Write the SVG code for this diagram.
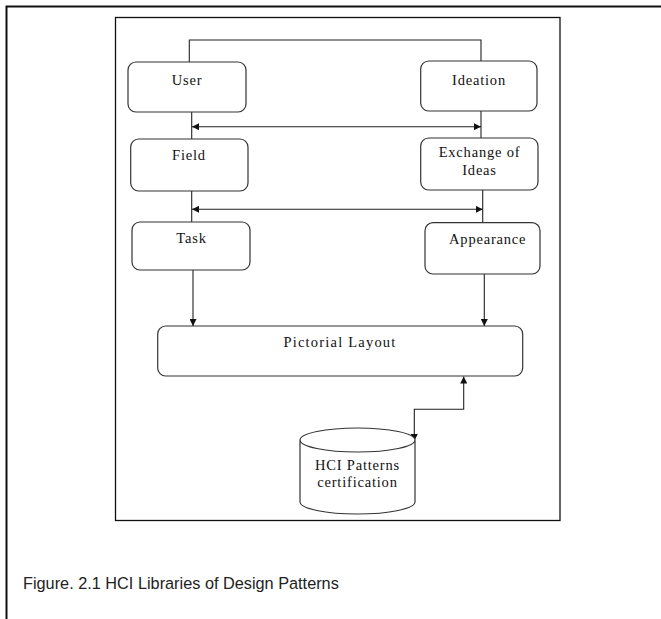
<svg xmlns="http://www.w3.org/2000/svg" width="661" height="619" viewBox="0 0 661 619">
<defs>
<style>
.box{fill:#fff;stroke:#333;stroke-width:1.2}
.ln{fill:none;stroke:#222;stroke-width:1.1}
.t{font-family:"Liberation Serif","Times New Roman",serif;font-size:14.5px;letter-spacing:0.8px;fill:#111;text-anchor:middle}
.cap{font-family:"Liberation Sans",Arial,sans-serif;font-size:16.3px;fill:#222}
</style>
<marker id="ah" viewBox="0 0 10 10" refX="10" refY="5" markerWidth="7" markerHeight="7" markerUnits="userSpaceOnUse" orient="auto-start-reverse">
<path d="M0,0 L10,5 L0,10 Z" fill="#111"/>
</marker>
</defs>
<rect width="661" height="619" fill="#fff"/>
<path d="M6.5,619 V6.5 H661" fill="none" stroke="#111" stroke-width="2"/>
<rect x="115.5" y="17.5" width="444.5" height="503" fill="none" stroke="#111" stroke-width="1.3"/>
<g id="connectors">
<path class="ln" d="M189.3,62 V40 H481 V61"/>
<path class="ln" d="M191.7,112 V139"/>
<path class="ln" d="M481,111 V138"/>
<path class="ln" d="M192,126.7 H481" marker-start="url(#ah)" marker-end="url(#ah)"/>
<path class="ln" d="M191.7,191 V222"/>
<path class="ln" d="M482.7,190 V222"/>
<path class="ln" d="M192,209.3 H482.7" marker-start="url(#ah)" marker-end="url(#ah)"/>
<path class="ln" d="M193,270 V326" marker-end="url(#ah)"/>
<path class="ln" d="M484.3,274 V326" marker-end="url(#ah)"/>
<path class="ln" d="M414.3,441 V409.3 H463.7 V376.5" marker-start="url(#ah)" marker-end="url(#ah)"/>
</g>
<g id="user"><rect class="box" x="128" y="62" width="118" height="50" rx="8"/><text class="t" x="187" y="85">User</text></g>
<g id="ideation"><rect class="box" x="420.7" y="61" width="116.3" height="50" rx="8"/><text class="t" x="479" y="85">Ideation</text></g>
<g id="field"><rect class="box" x="130.7" y="139" width="117.3" height="52" rx="8"/><text class="t" x="189" y="160">Field</text></g>
<g id="exchange"><rect class="box" x="420.7" y="138" width="117.3" height="52" rx="8"/><text class="t" x="479.5" y="157">Exchange of</text><text class="t" x="479.5" y="175">Ideas</text></g>
<g id="task"><rect class="box" x="132" y="222" width="118" height="48" rx="8"/><text class="t" x="191.5" y="243">Task</text></g>
<g id="appearance"><rect class="box" x="425" y="222.7" width="115" height="51.3" rx="8"/><text class="t" x="487.7" y="244">Appearance</text></g>
<g id="pictorial"><rect class="box" x="157.7" y="326" width="365" height="50" rx="8"/><text class="t" x="340" y="347" style="letter-spacing:1.2px">Pictorial Layout</text></g>
<g id="hci"><path class="box" d="M300,440 V502 A57.5,12 0 0 0 415,502 V440 A57.5,12 0 0 0 300,440 A57.5,12 0 0 0 415,440"/><text class="t" x="357.5" y="469.5">HCI Patterns</text><text class="t" x="357.5" y="487">certification</text></g>
<text class="cap" x="23" y="589">Figure. 2.1 HCI Libraries of Design Patterns</text>
</svg>
